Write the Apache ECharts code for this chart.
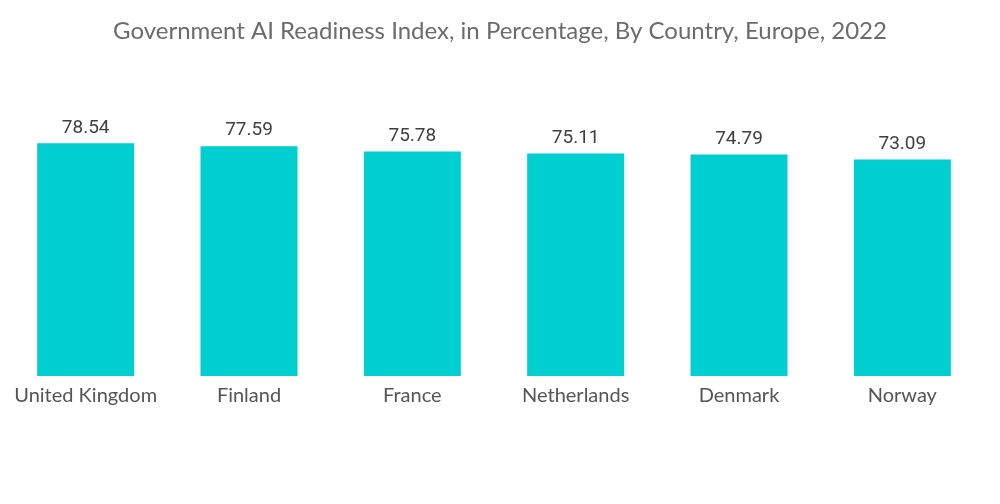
<!DOCTYPE html>
<html><head><meta charset="utf-8">
<script src="https://cdn.jsdelivr.net/npm/echarts@6/dist/echarts.min.js"></script>
<style>html,body{margin:0;padding:0;background:#fff}#c{width:1000px;height:504px}</style>
</head><body><div id="c"></div>
<script>
const categories = ["United Kingdom", "Finland", "France", "Netherlands", "Denmark", "Norway"];
const values = [78.54, 77.59, 75.78, 75.11, 74.79, 73.09];
const titleText = "Government AI Readiness Index, in Percentage, By Country, Europe, 2022";

const chart = echarts.init(document.getElementById('c'));
chart.setOption({
  backgroundColor: '#ffffff',
  title: {
    text: titleText, left: 'center', top: 14,
    textStyle: { fontFamily: 'Lato', fontWeight: 'normal', fontSize: 24, color: '#6b6b6b' }
  },
  grid: { left: 4, right: 16, top: 139, bottom: 128 },
  xAxis: {
    type: 'category', data: categories,
    axisLine: { show: false }, axisTick: { show: false },
    axisLabel: { fontFamily: 'Lato', fontSize: 20, color: '#555555', margin: 10, interval: 0 }
  },
  yAxis: { type: 'value', min: 0, max: 80, show: false, splitLine: { show: false } },
  series: [{
    type: 'bar', data: values, barWidth: 97,
    itemStyle: { color: '#00CED1' },
    label: { show: true, position: 'top', distance: 6, fontFamily: 'Roboto', fontSize: 19, color: '#404040',
      formatter: p => p.value.toFixed(2) }
  }]
});
</script></body></html>
